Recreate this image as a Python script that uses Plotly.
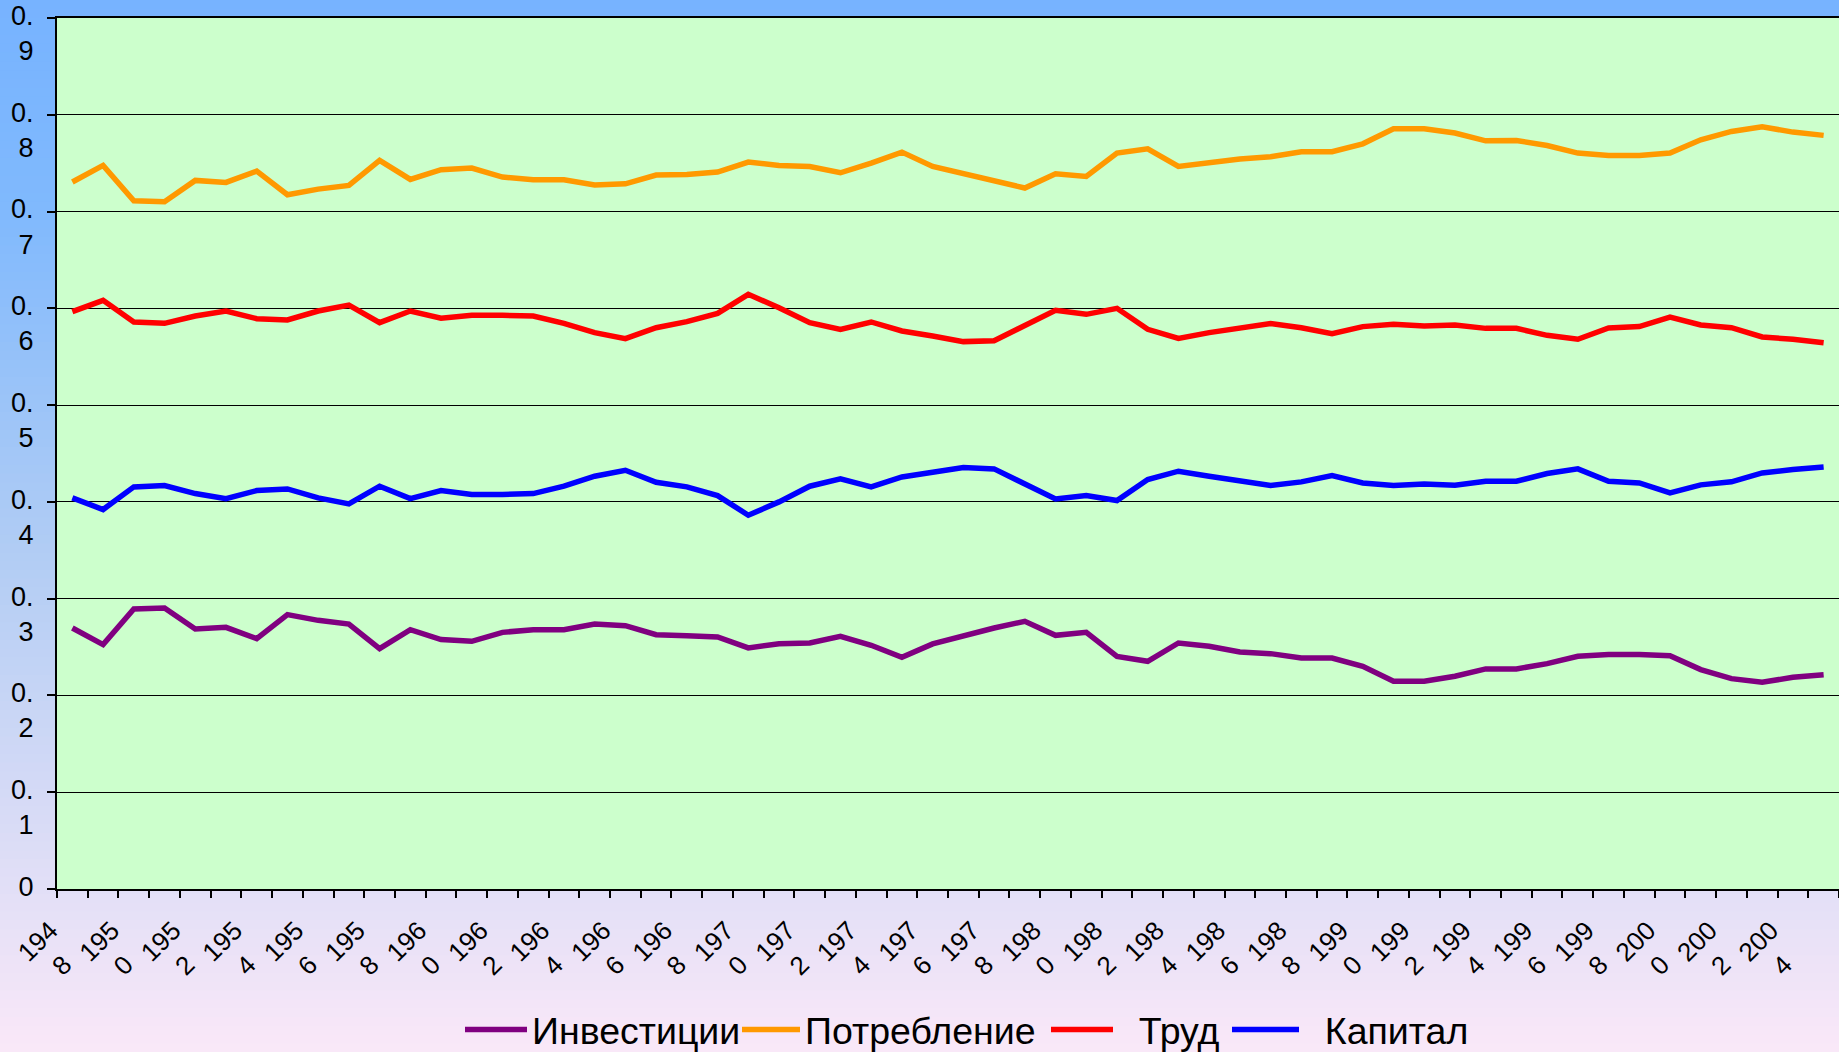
import plotly.graph_objects as go

W, H = 1839, 1052
M_L, M_R, M_T, M_B = 57, 0, 18, 163
PLOT_W = W - M_L - M_R
PLOT_H = H - M_T - M_B

years = list(range(1948, 2006))

# Доли
series = {
    "Инвестиции": [
        0.2697, 0.2525, 0.2893, 0.2904, 0.2687, 0.2704, 0.2587, 0.2835, 0.2776, 0.2738,
        0.2484, 0.2680, 0.2577, 0.2559, 0.2652, 0.2680, 0.2680, 0.2738, 0.2721, 0.2628,
        0.2618, 0.2604, 0.2491, 0.2535, 0.2542, 0.2611, 0.2518, 0.2394, 0.2532, 0.2618,
        0.2697, 0.2766, 0.2621, 0.2652, 0.2404, 0.2353, 0.2542, 0.2508, 0.2449, 0.2432,
        0.2387, 0.2387, 0.2301, 0.2146, 0.2146, 0.2198, 0.2274, 0.2274, 0.2329, 0.2404,
        0.2422, 0.2422, 0.2411, 0.2267, 0.2174, 0.2136, 0.2188, 0.2215,
    ],
    "Потребление": [
        0.7305, 0.7477, 0.7112, 0.7102, 0.7322, 0.7301, 0.7418, 0.7174, 0.7232, 0.7270,
        0.7528, 0.7332, 0.7432, 0.7449, 0.7356, 0.7329, 0.7329, 0.7274, 0.7287, 0.7377,
        0.7384, 0.7408, 0.7511, 0.7477, 0.7466, 0.7401, 0.7501, 0.7614, 0.7466, 0.7391,
        0.7318, 0.7243, 0.7391, 0.7363, 0.7604, 0.7649, 0.7466, 0.7511, 0.7542, 0.7566,
        0.7618, 0.7618, 0.7700, 0.7855, 0.7855, 0.7811, 0.7731, 0.7735, 0.7683, 0.7604,
        0.7580, 0.7580, 0.7604, 0.7742, 0.7828, 0.7876, 0.7821, 0.7787,
    ],
    "Труд": [
        0.5966, 0.6083, 0.5859, 0.5845, 0.5921, 0.5972, 0.5893, 0.5880, 0.5972, 0.6034,
        0.5852, 0.5972, 0.5897, 0.5928, 0.5928, 0.5921, 0.5845, 0.5749, 0.5687, 0.5800,
        0.5862, 0.5948, 0.6145, 0.6007, 0.5852, 0.5783, 0.5859, 0.5766, 0.5714, 0.5656,
        0.5666, 0.5818, 0.5979, 0.5938, 0.6000, 0.5783, 0.5690, 0.5749, 0.5790, 0.5842,
        0.5800, 0.5738, 0.5811, 0.5835, 0.5818, 0.5828, 0.5793, 0.5793, 0.5721, 0.5680,
        0.5797, 0.5811, 0.5910, 0.5828, 0.5800, 0.5704, 0.5680, 0.5645,
    ],
    "Капитал": [
        0.4041, 0.3921, 0.4155, 0.4169, 0.4086, 0.4034, 0.4117, 0.4134, 0.4041, 0.3979,
        0.4162, 0.4034, 0.4117, 0.4076, 0.4076, 0.4086, 0.4162, 0.4265, 0.4327, 0.4203,
        0.4155, 0.4065, 0.3862, 0.4000, 0.4162, 0.4238, 0.4155, 0.4258, 0.4306, 0.4355,
        0.4341, 0.4189, 0.4031, 0.4065, 0.4014, 0.4231, 0.4317, 0.4265, 0.4220, 0.4169,
        0.4207, 0.4272, 0.4196, 0.4169, 0.4186, 0.4172, 0.4213, 0.4213, 0.4293, 0.4341,
        0.4213, 0.4196, 0.4093, 0.4176, 0.4207, 0.4299, 0.4334, 0.4361,
    ],
}
colors = {
    "Инвестиции": "#800080",
    "Потребление": "#ff9900",
    "Труд": "#ff0000",
    "Капитал": "#0000ff",
}
# у каждой серии своя легенда: (id, левый край в px, ширина значка, отступ текста)
legend_pos = {
    "Инвестиции": ("legend", 460, 62, ""),
    "Потребление": ("legend2", 737, 58, ""),
    "Труд": ("legend3", 1046, 62, "\u00a0\u00a0"),
    "Капитал": ("legend4", 1227, 67, "\u00a0\u00a0"),
}

fig = go.Figure()
for name, vals in series.items():
    lid, _, _, pad = legend_pos[name]
    fig.add_trace(
        go.Scatter(
            x=years,
            y=vals,
            mode="lines",
            name=pad + name,
            legend=lid,
            line=dict(color=colors[name], width=5.5),
        )
    )

# Градиентный фон страницы (полосы)
stops = [(0.0, (119, 179, 255)), (0.2, (128, 185, 253)), (0.53, (178, 205, 244)), (1.0, (250, 232, 248))]


def grad(t):
    for (t0, c0), (t1, c1) in zip(stops[:-1], stops[1:]):
        if t <= t1:
            k = (t - t0) / (t1 - t0)
            return "rgb(%d,%d,%d)" % tuple(round(a + (b - a) * k) for a, b in zip(c0, c1))
    return "rgb(%d,%d,%d)" % stops[-1][1]


n_strips = 120
shapes = []
for i in range(n_strips):
    py0 = H * i / n_strips
    py1 = H * (i + 1) / n_strips + 1
    shapes.append(dict(
        type="rect", xref="paper", yref="paper", layer="below",
        x0=-M_L / PLOT_W, x1=1 + M_R / PLOT_W + 0.01,
        y0=(H - M_B - py0) / PLOT_H, y1=(H - M_B - py1) / PLOT_H,
        fillcolor=grad((i + 0.5) / n_strips), line=dict(width=0),
    ))
shapes.append(dict(
    type="rect", xref="paper", yref="paper", layer="below",
    x0=0, x1=1, y0=0, y1=1, fillcolor="#ccffcc", line=dict(width=0),
))

label_years = list(range(1948, 2005, 2))
font = "Liberation Sans, Arial, sans-serif"

legend_common = dict(
    orientation="h",
    y=-0.1615,
    yanchor="middle",
    xanchor="left",
    bgcolor="rgba(0,0,0,0)",
    borderwidth=0,
    font=dict(size=37.5, family=font, color="#000000"),
)
legends = {}
for name, (lid, px, iw, _) in legend_pos.items():
    legends[lid] = dict(legend_common, x=(px - M_L) / PLOT_W, itemwidth=iw)

fig.update_layout(
    width=W,
    height=H,
    margin=dict(l=M_L, r=M_R, t=M_T, b=M_B, autoexpand=False),
    paper_bgcolor="rgba(0,0,0,0)",
    plot_bgcolor="rgba(0,0,0,0)",
    shapes=shapes,
    font=dict(family=font, color="#000000", size=26),
    showlegend=True,
    xaxis=dict(
        range=[1947.5, 2005.5],
        tickvals=label_years,
        ticktext=[f"{str(y)[:3]}<br>{str(y)[3]}\u2007" for y in label_years],
        tickangle=-45,
        ticks="",
        ticklabelshift=-22,
        ticklabelstandoff=14,
        showgrid=False,
        zeroline=False,
        showline=True,
        linecolor="#000000",
        linewidth=2,
        mirror=True,
        tickfont=dict(size=26, family=font),
        minor=dict(
            tickvals=[y - 0.5 for y in range(1948, 2007)],
            ticks="outside",
            ticklen=7,
            tickwidth=1.5,
            tickcolor="#000000",
            showgrid=False,
        ),
    ),
    yaxis=dict(
        range=[0, 0.9],
        tickvals=[i / 10 for i in range(10)],
        ticktext=["0<br>\u00a0"] + [f"0.<br>{i}" for i in range(1, 10)],
        ticks="outside",
        ticklen=8,
        tickwidth=1.5,
        tickcolor="#000000",
        ticklabelshift=15,
        ticklabelstandoff=8,
        showgrid=True,
        gridcolor="#000000",
        gridwidth=1.2,
        zeroline=False,
        showline=True,
        linecolor="#000000",
        linewidth=2,
        tickfont=dict(size=27, family=font),
    ),
    **legends,
)

fig.write_html(
    "out.html",
    config={"displayModeBar": False},
    post_script="document.body.style.margin='0px';",
)
